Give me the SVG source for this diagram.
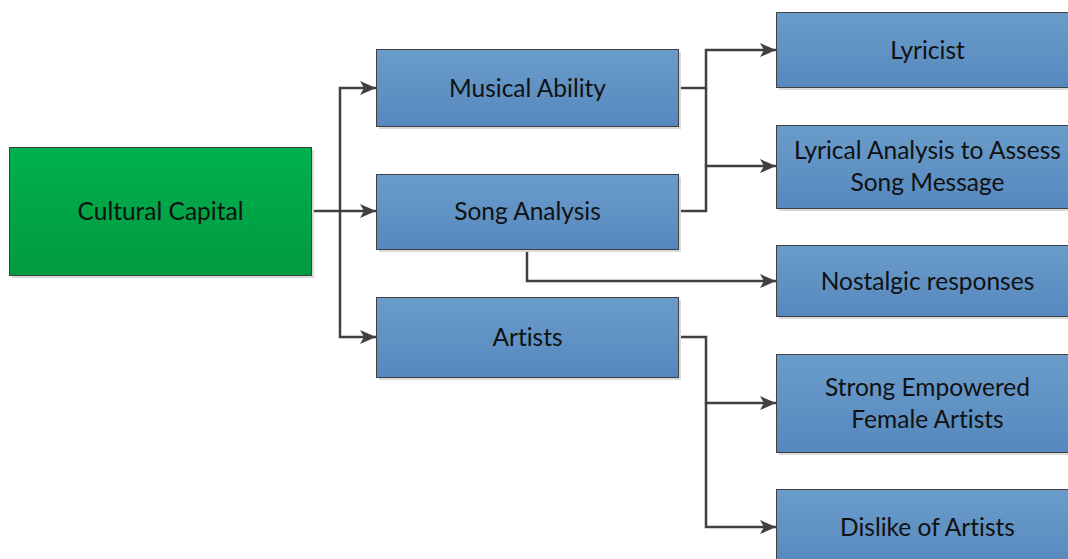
<svg xmlns="http://www.w3.org/2000/svg" width="1068" height="559" viewBox="0 0 1068 559">
<defs>
<linearGradient id="gBlue" x1="0" y1="0" x2="0" y2="1">
<stop offset="0" stop-color="#6a9cca"/>
<stop offset="1" stop-color="#5688be"/>
</linearGradient>
<linearGradient id="gGreen" x1="0" y1="0" x2="0" y2="1">
<stop offset="0" stop-color="#00b04f"/>
<stop offset="1" stop-color="#009a40"/>
</linearGradient>
<marker id="arr" viewBox="0 0 16 14" refX="16" refY="7" markerWidth="16" markerHeight="14" markerUnits="userSpaceOnUse" orient="auto">
<path d="M0,0 L16,7 L0,14 L4,7 Z" fill="#404040"/>
</marker>
</defs>
<style>
.shadow{fill:#d9d9d9;}
.box{fill:url(#gBlue);stroke:#404040;stroke-width:1;}
.green{fill:url(#gGreen);stroke:#404040;stroke-width:1;}
.lbl{font-family:Lato,"Liberation Sans",sans-serif;font-size:24.5px;fill:#111;text-anchor:middle;dominant-baseline:central;font-variant-ligatures:none;}
.conn{fill:none;stroke:#404040;stroke-width:2.5;}
</style>
<rect width="1068" height="559" fill="#ffffff"/>
<g id="connectors">
<path class="conn" d="M311,211 H376" marker-end="url(#arr)"/>
<path class="conn" d="M340,211 V88 H376" marker-end="url(#arr)"/>
<path class="conn" d="M340,211 V337 H376" marker-end="url(#arr)"/>
<path class="conn" d="M678,88 H706 V50 H776" marker-end="url(#arr)"/>
<path class="conn" d="M678,211 H706 V166 H776" marker-end="url(#arr)"/>
<path class="conn" d="M706,88 V166"/>
<path class="conn" d="M527,249 V281 H776" marker-end="url(#arr)"/>
<path class="conn" d="M678,337 H706 V403 H776" marker-end="url(#arr)"/>
<path class="conn" d="M706,403 V527 H776" marker-end="url(#arr)"/>
</g>
<g id="cultural-capital">
<rect class="shadow" x="12" y="150" width="302" height="128"/>
<rect class="green" x="9.5" y="147.5" width="302" height="128"/>
<text class="lbl" x="160.5" y="210.5">Cultural Capital</text>
</g>
<g id="musical-ability">
<rect class="shadow" x="379" y="52" width="302" height="77"/>
<rect class="box" x="376.5" y="49.5" width="302" height="77"/>
<text class="lbl" x="527.5" y="87">Musical Ability</text>
</g>
<g id="song-analysis">
<rect class="shadow" x="379" y="177" width="302" height="75"/>
<rect class="box" x="376.5" y="174.5" width="302" height="75"/>
<text class="lbl" x="527.5" y="210.5">Song Analysis</text>
</g>
<g id="artists">
<rect class="shadow" x="379" y="300" width="302" height="80"/>
<rect class="box" x="376.5" y="297.5" width="302" height="80"/>
<text class="lbl" x="527.5" y="336">Artists</text>
</g>
<g id="lyricist">
<rect class="shadow" x="779" y="15" width="302" height="75"/>
<rect class="box" x="776.5" y="12.5" width="302" height="75"/>
<text class="lbl" x="927.5" y="49">Lyricist</text>
</g>
<g id="lyrical-analysis">
<rect class="shadow" x="779" y="128" width="302" height="83"/>
<rect class="box" x="776.5" y="125.5" width="302" height="83"/>
<text class="lbl" x="927.5" y="149">Lyrical Analysis to Assess</text>
<text class="lbl" x="927.5" y="181">Song Message</text>
</g>
<g id="nostalgic">
<rect class="shadow" x="779" y="248" width="302" height="71"/>
<rect class="box" x="776.5" y="245.5" width="302" height="71"/>
<text class="lbl" x="927.5" y="280">Nostalgic responses</text>
</g>
<g id="strong-empowered">
<rect class="shadow" x="779" y="357" width="302" height="98"/>
<rect class="box" x="776.5" y="354.5" width="302" height="98"/>
<text class="lbl" x="927.5" y="386">Strong Empowered</text>
<text class="lbl" x="927.5" y="418">Female Artists</text>
</g>
<g id="dislike">
<rect class="shadow" x="779" y="492" width="302" height="80"/>
<rect class="box" x="776.5" y="489.5" width="302" height="80"/>
<text class="lbl" x="927.5" y="526">Dislike of Artists</text>
</g>
</svg>
